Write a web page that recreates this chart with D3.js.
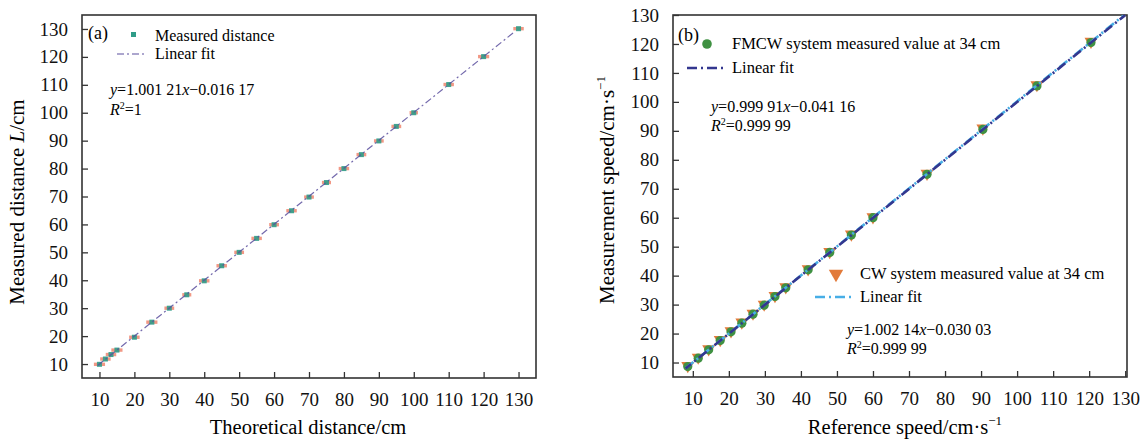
<!DOCTYPE html>
<html><head><meta charset="utf-8">
<script src="https://cdn.jsdelivr.net/npm/d3@7/dist/d3.min.js"></script>
<style>
body{margin:0;background:#fff;}
svg{display:block;font-family:"Liberation Serif","Times New Roman",serif;}
</style></head>
<body>
<svg id="c" width="1145" height="441"></svg>
<script>
// ---------- Data ----------
const ticksA = [10,20,30,40,50,60,70,80,90,100,110,120,130];
const ticksB = [10,20,30,40,50,60,70,80,90,100,110,120,130];

const theoDist = [10,11.7,13.3,15,20,25,30,35,40,45,50,55,60,65,70,75,80,85,90,95,100,110,120,130];
const measDist = [9.9,11.8,13.4,15.0,19.6,25.0,30.0,34.8,39.8,45.2,50.0,55.0,59.9,64.9,69.8,75.0,80.0,85.0,89.9,95.1,100.0,110.1,120.1,130.1];
const errDist  = [1.6,1.5,1.5,1.6,1.5,1.6,1.4,1.3,1.5,1.5,1.4,1.5,1.4,1.5,1.4,1.3,1.5,1.4,1.4,1.4,1.2,1.5,1.6,1.5];
const fitA = {slope:1.00121, intercept:-0.01617, from:9.5, to:129};

const refSpeed  = [8.6,11.5,14.4,17.6,20.6,23.6,26.7,29.8,32.8,35.8,42,48,54,60,75,90.5,105.5,120.5];
const fmcwSpeed = [8.6,11.5,14.4,17.6,20.6,23.6,26.7,29.8,32.8,35.8,42,48,54,60,75,90.5,105.5,120.5];
const cwSpeed   = [8.7,11.6,14.5,17.7,20.7,23.7,26.8,29.9,32.9,35.9,42.1,48.1,54.1,60.1,75.1,90.7,105.7,120.7];
const fitFMCW = {slope:0.99991, intercept:-0.04116, from:8, to:130};
const fitCW   = {slope:1.00214, intercept:-0.03003, from:8, to:129.5};

// ---------- Setup ----------
const svg = d3.select("#c");
const C = {
  teal:"#2f9c88", salmon:"#ef8670", purple:"#5a4f9e",
  green:"#3f9142", orange:"#e27b3b", navy:"#33378f", sky:"#47aee6", frame:"#333"
};

function panel(xs, ys, xt, yt){
  const g = svg.append("g");
  const [x0,x1] = xs.range(), [y0,y1] = ys.range();
  const ax = g.append("g").attr("transform",`translate(0,${y0})`)
    .call(d3.axisBottom(xs).tickValues(xt).tickSize(-6).tickPadding(15).tickFormat(d3.format("d")));
  const ay = g.append("g").attr("transform",`translate(${x0},0)`)
    .call(d3.axisLeft(ys).tickValues(yt).tickSize(-6).tickPadding(14).tickFormat(d3.format("d")));
  [ax,ay].forEach(a=>{
    a.select(".domain").remove();
    a.selectAll(".tick line").attr("stroke",C.frame).attr("stroke-width",1.3);
    a.selectAll(".tick text").attr("font-size",19).attr("fill","#111")
      .style("font-family","'Liberation Serif',serif");
  });
  g.append("rect").attr("x",x0).attr("y",y1).attr("width",x1-x0).attr("height",y0-y1)
    .attr("fill","none").attr("stroke",C.frame).attr("stroke-width",1.6);
  return g;
}

// ---------- Panel (a) ----------
const xA = d3.scaleLinear().domain([5,135]).range([82,536]);
const yA = d3.scaleLinear().domain([5,135]).range([378,15]);
const gA = panel(xA,yA,ticksA,ticksA);

const dA = theoDist.map((t,i)=>({x:t,y:measDist[i],e:errDist[i]}));
gA.append("g").selectAll("rect").data(dA).join("rect")
  .attr("x",d=>xA(d.x-d.e)).attr("width",d=>xA(d.x+d.e)-xA(d.x-d.e))
  .attr("y",d=>yA(d.y)-1.7).attr("height",3.4)
  .attr("fill",C.salmon).attr("opacity",0.85);
gA.append("g").selectAll("rect").data(dA).join("rect")
  .attr("x",d=>xA(d.x)-2.5).attr("y",d=>yA(d.y)-2.5).attr("width",5).attr("height",5)
  .attr("fill",C.teal).attr("opacity",0.9);
const lineA = d3.line().x(d=>xA(d)).y(d=>yA(fitA.slope*d+fitA.intercept));
gA.append("path").datum([fitA.from,fitA.to]).attr("d",lineA)
  .attr("fill","none").attr("stroke",C.purple).attr("stroke-width",1.2)
  .attr("stroke-dasharray","7,3,2,3").attr("opacity",0.85);

// legend (a)
gA.append("text").attr("x",88).attr("y",39).attr("font-size",18).text("(a)");
gA.append("rect").attr("x",131).attr("y",32).attr("width",5).attr("height",5).attr("fill",C.teal);
gA.append("text").attr("x",155).attr("y",41).attr("font-size",16).text("Measured distance");
gA.append("line").attr("x1",117).attr("x2",147).attr("y1",54).attr("y2",54)
  .attr("stroke",C.purple).attr("stroke-width",1.2).attr("stroke-dasharray","7,3,2,3");
gA.append("text").attr("x",155).attr("y",59).attr("font-size",16).text("Linear fit");
const eqA = gA.append("text").attr("x",110).attr("y",95).attr("font-size",16);
eqA.append("tspan").attr("font-style","italic").text("y");
eqA.append("tspan").text("=1.001 21");
eqA.append("tspan").attr("font-style","italic").text("x");
eqA.append("tspan").text("\u22120.016 17");
const r2A = gA.append("text").attr("x",110).attr("y",115).attr("font-size",16);
r2A.append("tspan").attr("font-style","italic").text("R");
r2A.append("tspan").attr("font-size",10).attr("dy",-6).text("2");
r2A.append("tspan").attr("dy",6).text("=1");

// axis titles (a)
svg.append("text").attr("x",308).attr("y",434).attr("text-anchor","middle").attr("font-size",20.5)
  .text("Theoretical distance/cm");
const ytA = svg.append("text").attr("transform","translate(24,202) rotate(-90)")
  .attr("text-anchor","middle").attr("font-size",21);
ytA.append("tspan").text("Measured distance ");
ytA.append("tspan").attr("font-style","italic").text("L");
ytA.append("tspan").text("/cm");

// ---------- Panel (b) ----------
const xB = d3.scaleLinear().domain([4.5,130.5]).range([673,1127]);
const yB = d3.scaleLinear().domain([5,130]).range([377,15]);
const gB = panel(xB,yB,ticksB,ticksB);

const tri = d3.symbol().type(d3.symbolTriangle).size(72);
gB.append("g").selectAll("path").data(refSpeed.map((r,i)=>({x:r,y:cwSpeed[i]}))).join("path")
  .attr("d",tri).attr("transform",d=>`translate(${xB(d.x)},${yB(d.y)-0.5}) rotate(180)`)
  .attr("fill",C.orange);
gB.append("g").selectAll("circle").data(refSpeed.map((r,i)=>({x:r,y:fmcwSpeed[i]}))).join("circle")
  .attr("cx",d=>xB(d.x)).attr("cy",d=>yB(d.y)).attr("r",4.6).attr("fill",C.green);

const lineCW = d3.line().x(d=>xB(d)).y(d=>yB(fitCW.slope*d+fitCW.intercept));
const lineFM = d3.line().x(d=>xB(d)).y(d=>yB(fitFMCW.slope*d+fitFMCW.intercept));
gB.append("path").datum([fitCW.from,fitCW.to]).attr("d",lineCW)
  .attr("fill","none").attr("stroke",C.sky).attr("stroke-width",2.6)
  .attr("stroke-dasharray","10,4,2,4");
gB.append("path").datum([fitFMCW.from,fitFMCW.to]).attr("d",lineFM)
  .attr("fill","none").attr("stroke",C.navy).attr("stroke-width",2.6)
  .attr("stroke-dasharray","10,4,2,4").attr("stroke-dashoffset",3);

// legend (b)
gB.append("text").attr("x",678).attr("y",41).attr("font-size",18).text("(b)");
gB.append("circle").attr("cx",707).attr("cy",44).attr("r",4.8).attr("fill",C.green);
gB.append("text").attr("x",732).attr("y",49).attr("font-size",16.5).text("FMCW system measured value at 34 cm");
gB.append("line").attr("x1",687).attr("x2",727).attr("y1",68).attr("y2",68)
  .attr("stroke",C.navy).attr("stroke-width",2.4).attr("stroke-dasharray","10,4,2,4");
gB.append("text").attr("x",732).attr("y",73).attr("font-size",16.5).text("Linear fit");
const eqB1 = gB.append("text").attr("x",711).attr("y",112).attr("font-size",16);
eqB1.append("tspan").attr("font-style","italic").text("y");
eqB1.append("tspan").text("=0.999 91");
eqB1.append("tspan").attr("font-style","italic").text("x");
eqB1.append("tspan").text("\u22120.041 16");
const r2B1 = gB.append("text").attr("x",711).attr("y",131).attr("font-size",16);
r2B1.append("tspan").attr("font-style","italic").text("R");
r2B1.append("tspan").attr("font-size",10).attr("dy",-6).text("2");
r2B1.append("tspan").attr("dy",6).text("=0.999 99");

gB.append("path").attr("d",d3.symbol().type(d3.symbolTriangle).size(90))
  .attr("transform","translate(836,274) rotate(180)").attr("fill",C.orange);
gB.append("text").attr("x",860).attr("y",279).attr("font-size",16.5).text("CW system measured value at 34 cm");
gB.append("line").attr("x1",815).attr("x2",855).attr("y1",297).attr("y2",297)
  .attr("stroke",C.sky).attr("stroke-width",2.4).attr("stroke-dasharray","10,4,2,4");
gB.append("text").attr("x",860).attr("y",302).attr("font-size",16.5).text("Linear fit");
const eqB2 = gB.append("text").attr("x",847).attr("y",335).attr("font-size",16);
eqB2.append("tspan").attr("font-style","italic").text("y");
eqB2.append("tspan").text("=1.002 14");
eqB2.append("tspan").attr("font-style","italic").text("x");
eqB2.append("tspan").text("\u22120.030 03");
const r2B2 = gB.append("text").attr("x",847).attr("y",354).attr("font-size",16);
r2B2.append("tspan").attr("font-style","italic").text("R");
r2B2.append("tspan").attr("font-size",10).attr("dy",-6).text("2");
r2B2.append("tspan").attr("dy",6).text("=0.999 99");

// axis titles (b)
const xtB = svg.append("text").attr("x",905).attr("y",434).attr("text-anchor","middle").attr("font-size",20.5);
xtB.append("tspan").text("Reference speed/cm\u00b7s");
xtB.append("tspan").attr("font-size",13).attr("dy",-9).text("\u22121");
const ytB = svg.append("text").attr("transform","translate(614,190) rotate(-90)")
  .attr("text-anchor","middle").attr("font-size",21);
ytB.append("tspan").text("Measurement speed/cm\u00b7s");
ytB.append("tspan").attr("font-size",13).attr("dy",-9).text("\u22121");
</script>
</body></html>
